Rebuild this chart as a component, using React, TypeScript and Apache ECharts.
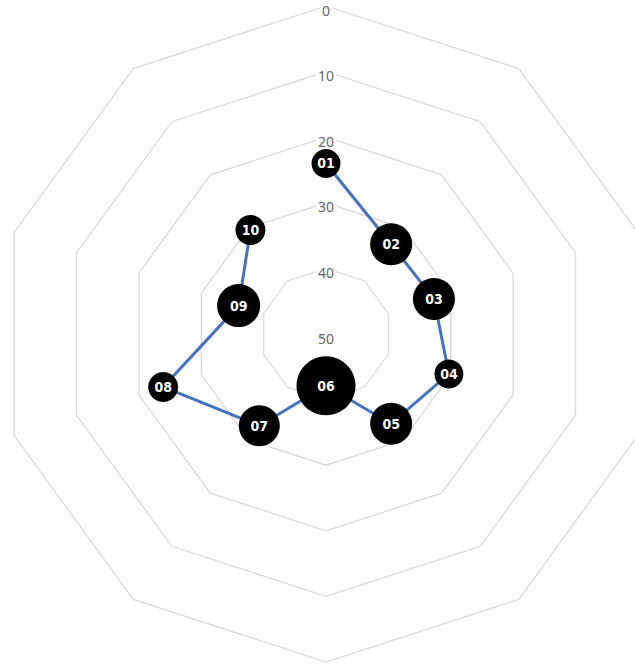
import React, { useEffect, useRef } from "react";
import * as echarts from "echarts";

const categories = ["01", "02", "03", "04", "05", "06", "07", "08", "09", "10"];
const values = [24, 33.1, 32.7, 30.3, 33.1, 42.1, 32.7, 23.9, 36.0, 30.4];
const markerSizes = [29, 42, 42, 29, 42, 59, 41, 30, 43, 30];
const tickValues = [0, 10, 20, 30, 40, 50];

const AXIS_MAX = 50;

export default function App() {
  const ref = useRef<HTMLDivElement>(null);

  useEffect(() => {
    if (!ref.current) return;
    const chart = echarts.init(ref.current, null, { renderer: "svg" });
    const center = [326, 334];
    const radius = 328;

    const lineData = categories.map((c, i) => [values[i], c]);
    lineData.push([values[0], categories[0]]);

    chart.setOption({
      animation: false,
      backgroundColor: "#ffffff",
      radar: {
        center,
        radius,
        startAngle: 90,
        shape: "polygon",
        splitNumber: tickValues.length - 1,
        axisName: { show: false },
        axisLine: { show: false },
        axisTick: { show: false },
        splitArea: { show: false },
        splitLine: { lineStyle: { color: "#d9d9d9", width: 1.3 } },
        axisLabel: { show: false },
        indicator: categories.map((c, i) => ({
          name: c,
          min: 0,
          max: AXIS_MAX,
          ...(i === 0
            ? {
                axisLabel: {
                  show: true,
                  showMinLabel: true,
                  showMaxLabel: true,
                  margin: 0,
                  align: "center",
                  verticalAlign: "top",
                  lineHeight: 8,
                  color: "#666666",
                  fontSize: 14,
                  fontFamily: "Noto Sans",
                  backgroundColor: "#ffffff",
                  padding: [0, 2],
                  formatter: (v: number) => String(AXIS_MAX - v),
                },
              }
            : {}),
        })),
      },
      polar: { center, radius },
      angleAxis: {
        type: "category",
        data: categories,
        startAngle: 90,
        clockwise: true,
        boundaryGap: false,
        axisLine: { show: false },
        axisTick: { show: false },
        axisLabel: { show: false },
        splitLine: { show: false },
      },
      radiusAxis: {
        type: "value",
        min: 0,
        max: AXIS_MAX,
        inverse: true,
        axisLine: { show: false },
        axisTick: { show: false },
        axisLabel: { show: false },
        splitLine: { show: false },
      },
      series: [
        {
          type: "line",
          coordinateSystem: "polar",
          data: lineData,
          showSymbol: false,
          symbol: "none",
          lineStyle: { color: "#4472C4", width: 3 },
          z: 2,
        },
        {
          type: "scatter",
          coordinateSystem: "polar",
          data: categories.map((c, i) => ({
            name: c,
            value: [values[i], c],
            symbolSize: markerSizes[i],
          })),
          itemStyle: { color: "#000000", opacity: 1 },
          label: {
            show: true,
            position: "inside",
            formatter: (p: any) => p.name,
            color: "#ffffff",
            fontWeight: "bold",
            fontSize: 14,
            fontFamily: "DejaVu Sans Condensed",
          },
          z: 3,
        },
      ],
    });

    return () => chart.dispose();
  }, []);

  return (
    <div
      ref={ref}
      style={{ position: "fixed", left: 0, top: 0, width: 635, height: 667 }}
    />
  );
}
